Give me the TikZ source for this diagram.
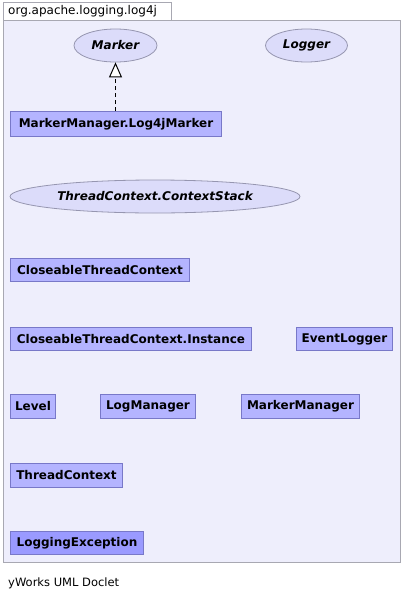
\documentclass[tikz,border=0pt]{standalone}
\usepackage{fontspec}
\setmainfont{DejaVu Sans}
\usetikzlibrary{shapes.geometric,arrows.meta}
\definecolor{pkgfill}{RGB}{238,238,252}
\definecolor{pkgline}{RGB}{168,168,178}
\definecolor{clsfill}{RGB}{180,180,255}
\definecolor{clsline}{RGB}{120,120,200}
\definecolor{excfill}{RGB}{154,154,255}
\definecolor{ifill}{RGB}{220,220,250}
\definecolor{iline}{RGB}{150,150,176}
\tikzset{
  x=1pt,y=-1pt,
  cls/.style={draw=clsline,fill=clsfill,line width=1pt,inner sep=0pt,anchor=north west,
    font=\fontsize{12}{14}\selectfont\bfseries,text=black},
  exc/.style={cls,fill=excfill},
  iface/.style={draw=iline,fill=ifill,line width=0.8pt,ellipse,inner sep=0pt,
    font=\fontsize{12}{14}\selectfont\bfseries\itshape,text=black},
  realize/.style={dashed,dash pattern=on 4pt off 3pt,line width=1pt,
    -{Triangle[open,length=15pt,width=13pt,fill=white]}},
}
\begin{document}
\begin{tikzpicture}
\useasboundingbox (0,0) rectangle (403,600);
% package
\draw[pkgline,fill=white,line width=1pt] (3,2) rectangle (171,20);
\node[anchor=west,font=\fontsize{12}{14}\selectfont,inner sep=0pt] (pkgname) at (8,11) {org.apache.logging.log4j};
\draw[pkgline,fill=pkgfill,line width=1pt] (3,20) rectangle (400,562);
% interfaces
\node[iface,minimum width=83,minimum height=33] (marker) at (115.5,45.5) {Marker};
\node[iface,minimum width=82,minimum height=33] (logger) at (306.5,45.5) {Logger};
\node[iface,minimum width=290,minimum height=33] (ctxstack) at (155,196.5) {ThreadContext.ContextStack};
% classes
\node[cls,minimum width=211,minimum height=25] (l4jm) at (10,111) {MarkerManager.Log4jMarker};
\node[cls,minimum width=179,minimum height=23] (ctc) at (10,258) {CloseableThreadContext};
\node[cls,minimum width=241,minimum height=23] (ctci) at (10,327) {CloseableThreadContext.Instance};
\node[cls,minimum width=96,minimum height=23] (evl) at (296,327) {EventLogger};
\node[cls,minimum width=45,minimum height=24] (lvl) at (10,394) {Level};
\node[cls,minimum width=95,minimum height=24] (lm) at (100,394) {LogManager};
\node[cls,minimum width=118,minimum height=24] (mm) at (241,394) {MarkerManager};
\node[cls,minimum width=112,minimum height=24] (tc) at (10,463) {ThreadContext};
\node[exc,minimum width=133,minimum height=23] (le) at (10,531) {LoggingException};
% realization
\draw[realize] (l4jm.north -| marker.south) -- (marker.south);
% footer
\node[anchor=west,font=\fontsize{11.5}{13}\selectfont,inner sep=0pt] (footer) at (8,583) {yWorks UML Doclet};
\end{tikzpicture}
\end{document}
